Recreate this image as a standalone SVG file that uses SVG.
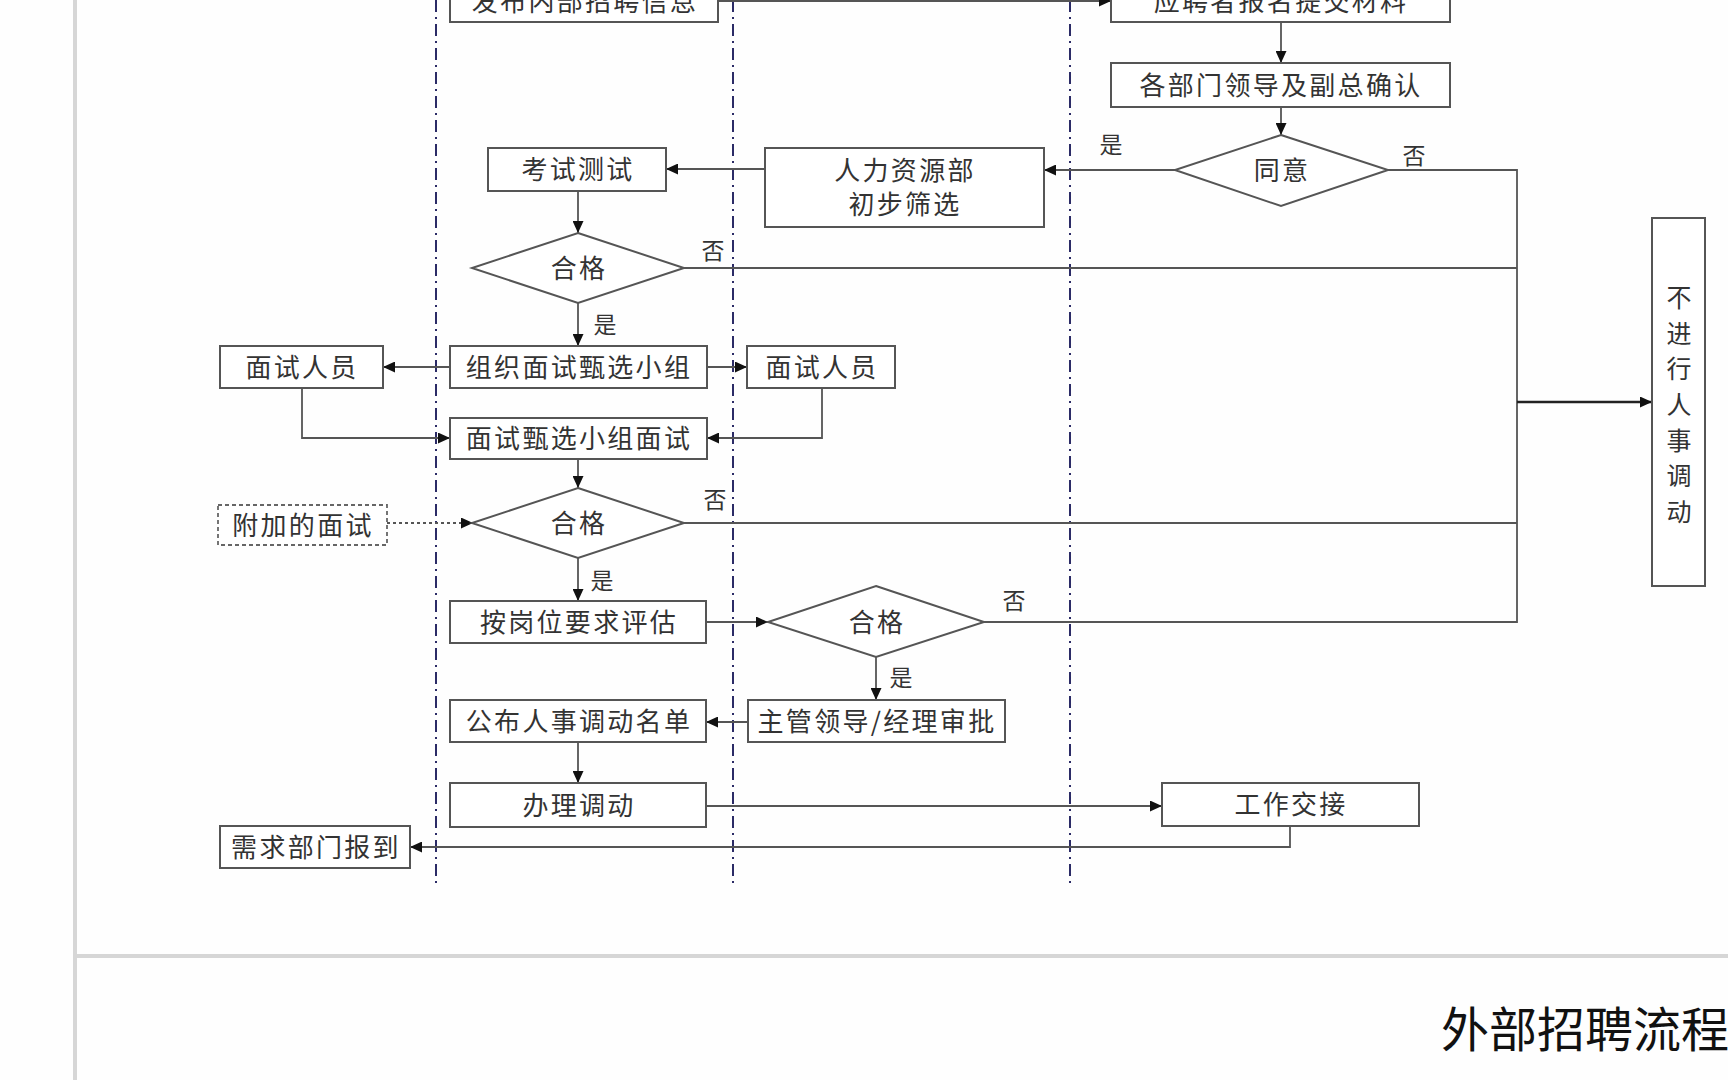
<svg xmlns="http://www.w3.org/2000/svg" width="1728" height="1080" viewBox="0 0 1728 1080">
<defs>
<style>
.bg{fill:#fefefe}
.frame{stroke:#d6d6d6;stroke-width:4;fill:none}
.lane{stroke:#2b2b66;stroke-width:2;stroke-dasharray:12 5 2 5;fill:none}
.box{fill:#fff;stroke:#555;stroke-width:2}
.dbox{fill:#fff;stroke:#666;stroke-width:1.8;stroke-dasharray:4 3}
.lbl{font-family:"Noto Sans CJK SC","Noto Sans CJK TC",sans-serif;font-size:26px;fill:#333;letter-spacing:2.3px;text-anchor:middle;dominant-baseline:central}
.vt{font-family:"Noto Sans CJK SC",sans-serif;font-size:25px;fill:#333;text-anchor:middle;dominant-baseline:central}
.yn{font-family:"Noto Sans CJK SC",sans-serif;font-size:23px;fill:#333;text-anchor:middle;dominant-baseline:central}
.conn{fill:none;stroke:#555;stroke-width:1.8}
.dot{fill:none;stroke:#555;stroke-width:1.8;stroke-dasharray:3 3}
.title{font-family:"Noto Sans CJK SC",sans-serif;font-size:48px;fill:#111;text-anchor:end;dominant-baseline:central}
</style>
<marker id="arr" viewBox="0 0 12 11" refX="12" refY="5.5" markerWidth="12" markerHeight="11" markerUnits="userSpaceOnUse" orient="auto">
<path d="M0,0 L12,5.5 L0,11 z" fill="#111"/>
</marker>
</defs>
<rect class="bg" x="0" y="0" width="1728" height="1080"/>
<g id="frame">
<line class="frame" x1="75" y1="0" x2="75" y2="1080"/>
<line class="frame" x1="75" y1="956" x2="1728" y2="956"/>
</g>
<g id="lanes">
<line class="lane" x1="436" y1="0" x2="436" y2="883"/>
<line class="lane" x1="733" y1="0" x2="733" y2="883"/>
<line class="lane" x1="1070" y1="0" x2="1070" y2="883"/>
</g>
<g id="connectors">
<path class="conn" d="M718,1 H1111" marker-end="url(#arr)"/>
<path class="conn" d="M1281,22 V63" marker-end="url(#arr)"/>
<path class="conn" d="M1281,107 V135" marker-end="url(#arr)"/>
<path class="conn" d="M1175,170 H1044" marker-end="url(#arr)"/>
<path class="conn" d="M765,169 H666" marker-end="url(#arr)"/>
<path class="conn" d="M578,191 V233" marker-end="url(#arr)"/>
<path class="conn" d="M1388,170 H1517 V622 H984"/>
<path class="conn" d="M684,268 H1517"/>
<path class="conn" d="M684,523 H1517"/>
<path class="conn" d="M1517,402 H1652" style="stroke:#222;stroke-width:2.6" marker-end="url(#arr)"/>
<path class="conn" d="M578,303 V346" marker-end="url(#arr)"/>
<path class="conn" d="M450,367 H383" marker-end="url(#arr)"/>
<path class="conn" d="M707,367 H747" marker-end="url(#arr)"/>
<path class="conn" d="M302,388 V438 H450" marker-end="url(#arr)"/>
<path class="conn" d="M822,388 V438 H707" marker-end="url(#arr)"/>
<path class="conn" d="M578,459 V488" marker-end="url(#arr)"/>
<path class="dot" d="M387,523 H473" marker-end="url(#arr)"/>
<path class="conn" d="M578,558 V601" marker-end="url(#arr)"/>
<path class="conn" d="M706,622 H768" marker-end="url(#arr)"/>
<path class="conn" d="M876,657 V700" marker-end="url(#arr)"/>
<path class="conn" d="M748,722 H706" marker-end="url(#arr)"/>
<path class="conn" d="M578,742 V783" marker-end="url(#arr)"/>
<path class="conn" d="M706,806 H1162" marker-end="url(#arr)"/>
<path class="conn" d="M1290,826 V847 H410" marker-end="url(#arr)"/>
<text class="yn" x="1111" y="143">是</text>
<text class="yn" x="1414" y="154">否</text>
<text class="yn" x="713" y="249">否</text>
<text class="yn" x="605" y="323">是</text>
<text class="yn" x="715" y="498">否</text>
<text class="yn" x="602" y="579">是</text>
<text class="yn" x="1014" y="599">否</text>
<text class="yn" x="901" y="676">是</text>
</g>
<g id="n-publish">
<rect class="box" x="450" y="-21" width="268" height="43"/>
<text class="lbl" x="585" y="-1">发布内部招聘信息</text>
</g>
<g id="n-apply">
<rect class="box" x="1111" y="-21" width="339" height="43"/>
<text class="lbl" x="1281" y="-1">应聘者报名提交材料</text>
</g>
<g id="n-confirm">
<rect class="box" x="1111" y="63" width="339" height="44"/>
<text class="lbl" x="1281" y="83">各部门领导及副总确认</text>
</g>
<g id="n-agree">
<polygon class="box" points="1281,135 1388,170 1281,206 1175,170"/>
<text class="lbl" x="1282" y="168">同意</text>
</g>
<g id="n-hr">
<rect class="box" x="765" y="148" width="279" height="79"/>
<text class="lbl" x="905" y="168">人力资源部</text>
<text class="lbl" x="905" y="202">初步筛选</text>
</g>
<g id="n-exam">
<rect class="box" x="488" y="148" width="178" height="43"/>
<text class="lbl" x="578" y="167.5">考试测试</text>
</g>
<g id="n-pass1">
<polygon class="box" points="578,233 684,268 578,303 472,268"/>
<text class="lbl" x="579" y="266">合格</text>
</g>
<g id="n-group">
<rect class="box" x="450" y="346" width="257" height="42"/>
<text class="lbl" x="579" y="365">组织面试甄选小组</text>
</g>
<g id="n-staff-left">
<rect class="box" x="220" y="346" width="163" height="42"/>
<text class="lbl" x="302" y="365">面试人员</text>
</g>
<g id="n-staff-right">
<rect class="box" x="747" y="346" width="148" height="42"/>
<text class="lbl" x="822" y="365">面试人员</text>
</g>
<g id="n-interview">
<rect class="box" x="450" y="418" width="257" height="41"/>
<text class="lbl" x="579" y="436.5">面试甄选小组面试</text>
</g>
<g id="n-pass2">
<polygon class="box" points="578,488 684,523 578,558 472,523"/>
<text class="lbl" x="579" y="521">合格</text>
</g>
<g id="n-extra">
<rect class="dbox" x="218" y="505" width="169" height="40"/>
<text class="lbl" x="303" y="523">附加的面试</text>
</g>
<g id="n-evaluate">
<rect class="box" x="450" y="601" width="256" height="42"/>
<text class="lbl" x="579" y="620">按岗位要求评估</text>
</g>
<g id="n-pass3">
<polygon class="box" points="876,586 984,622 876,657 768,622"/>
<text class="lbl" x="877" y="620">合格</text>
</g>
<g id="n-approve">
<rect class="box" x="748" y="700" width="257" height="42"/>
<text class="lbl" x="877" y="719">主管领导/经理审批</text>
</g>
<g id="n-publish-list">
<rect class="box" x="450" y="700" width="256" height="42"/>
<text class="lbl" x="579" y="719">公布人事调动名单</text>
</g>
<g id="n-transfer">
<rect class="box" x="450" y="783" width="256" height="44"/>
<text class="lbl" x="579" y="803">办理调动</text>
</g>
<g id="n-handover">
<rect class="box" x="1162" y="783" width="257" height="43"/>
<text class="lbl" x="1291" y="802.5">工作交接</text>
</g>
<g id="n-report">
<rect class="box" x="220" y="826" width="190" height="42"/>
<text class="lbl" x="316" y="845">需求部门报到</text>
</g>
<g id="n-no-transfer">
<rect class="box" x="1652" y="218" width="53" height="368"/>
<text class="vt" x="1679" y="296">不</text>
<text class="vt" x="1679" y="332">进</text>
<text class="vt" x="1679" y="367">行</text>
<text class="vt" x="1679" y="403">人</text>
<text class="vt" x="1679" y="439">事</text>
<text class="vt" x="1679" y="474">调</text>
<text class="vt" x="1679" y="510">动</text>
</g>
<g id="title">
<text class="title" x="1729" y="1026">外部招聘流程</text>
</g>
</svg>
